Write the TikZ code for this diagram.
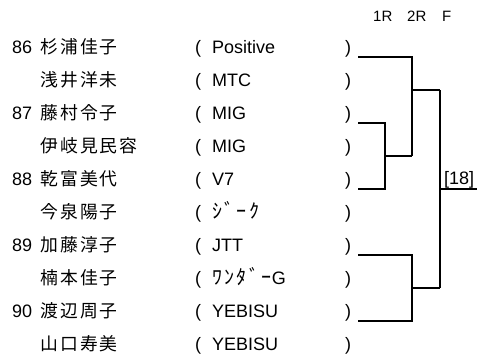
\documentclass[tikz,border=0pt]{standalone}
\usepackage{fontspec}
\setmainfont{Liberation Sans}
\newfontfamily\jpname[LetterSpace=12]{Noto Sans CJK JP}
\newfontfamily\jpkana[LetterSpace=12]{Noto Sans CJK JP}
\begin{document}
\begin{tikzpicture}[x=1pt,y=-1pt,
  txt/.style={anchor=base west, inner sep=0pt, font=\fontsize{18}{20}\selectfont},
  nm/.style={anchor=base west, inner sep=0pt, font=\jpname\fontsize{17.8}{20}\selectfont},
  hdr/.style={anchor=base west, inner sep=0pt, font=\fontsize{15}{18}\selectfont},
  br/.style={line width=2.4pt, line join=miter}]
\useasboundingbox (0,0) rectangle (482,360);
% header
\node[hdr] (h1) at (373,21.5) {1R};
\node[hdr] (h2) at (407,21.5) {2R};
\node[hdr] (h3) at (442,21.5) {F};
% rows
\foreach \i/\n/\nm/\t in {1/86/杉浦佳子/Positive, 2//浅井洋未/MTC, 3/87/藤村令子/MIG, 4//伊岐見民容/MIG, 5/88/乾富美代/V7, 6//今泉陽子/{{\jpkana\fontsize{20}{20}\selectfont ｼﾞｰｸ}}, 7/89/加藤淳子/JTT, 8//楠本佳子/{{\jpkana\fontsize{20}{20}\selectfont ﾜﾝﾀﾞｰ}G}, 9/90/渡辺周子/YEBISU, 10//山口寿美/YEBISU}{
  \pgfmathsetmacro{\yb}{53.5+33*(\i-1)}
  \node[txt] (num\i) at (12,\yb) {\n};
  \node[nm] (name\i) at (40,\yb) {\nm};
  \node[txt] (lp\i) at (195,\yb) {(};
  \node[txt] (team\i) at (212,\yb) {\t};
  \node[txt] (rp\i) at (345,\yb) {)};
}
% bracket points
\coordinate (a1) at (358,57);
\coordinate (a3) at (358,123);
\coordinate (a5) at (358,189);
\coordinate (a7) at (358,255);
\coordinate (a9) at (358,321);
\coordinate (q1) at (385,156);
\coordinate (q1x) at (412,156);
\coordinate (q2) at (412,90);
\coordinate (q3) at (412,288);
\coordinate (f1) at (440,90);
\coordinate (f2) at (440,288);
\coordinate (w) at (440,189);
\coordinate (wend) at (477,189);
% 1R
\draw[br] (a3) -| (q1) |- (a5);
\draw[br] (q1) -- (q1x);
% 2R
\draw[br] (a1) -| (q2) -- (q1x);
\draw[br] (q2) -- (f1);
\draw[br] (a7) -| (q3) |- (a9);
\draw[br] (q3) -- (f2);
% F
\draw[br] (f1) -- (f2);
\draw[br] (w) -- (wend);
\node[txt] (res) at (444,184.5) {[18]};
\end{tikzpicture}
\end{document}
